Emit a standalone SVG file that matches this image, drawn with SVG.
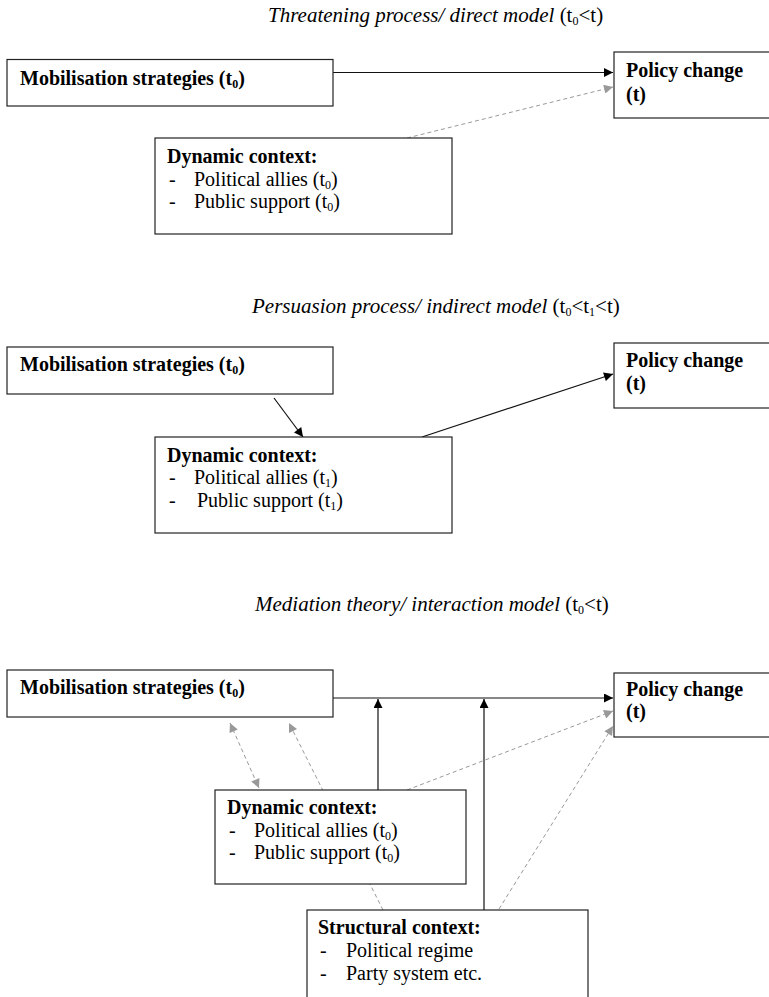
<svg xmlns="http://www.w3.org/2000/svg" width="769" height="997" viewBox="0 0 769 997">
<style>
text{font-family:"Liberation Serif","Times New Roman",serif;font-size:20px;fill:#000}
.t{font-size:21px}
.b{font-weight:bold}
.i{font-style:italic}
.sub{font-size:12px}
.box{fill:#fff;stroke:#222;stroke-width:1.2}
.solid{stroke:#111;stroke-width:1.2;fill:none}
.dash{stroke:#999;stroke-width:1;stroke-dasharray:4 3;fill:none}
</style>
<defs>
<marker id="ab" viewBox="0 0 10 10" refX="10" refY="5" markerWidth="11" markerHeight="9" markerUnits="userSpaceOnUse" orient="auto"><path d="M0,0 L10,5 L0,10 z" fill="#000"/></marker>
<marker id="ag" viewBox="0 0 10 10" refX="10" refY="5" markerWidth="11" markerHeight="9" markerUnits="userSpaceOnUse" orient="auto-start-reverse"><path d="M0,0 L10,5 L0,10 z" fill="#999"/></marker>
</defs>

<g id="titles">
<text class="t" x="268" y="22"><tspan class="i">Threatening process/ direct model</tspan> (t<tspan class="sub" dy="3">0</tspan><tspan dy="-3">&lt;t)</tspan></text>
<text class="t" x="252" y="313"><tspan class="i">Persuasion process/ indirect model</tspan> (t<tspan class="sub" dy="3">0</tspan><tspan dy="-3">&lt;t</tspan><tspan class="sub" dy="3">1</tspan><tspan dy="-3">&lt;t)</tspan></text>
<text class="t" x="255" y="611"><tspan class="i">Mediation theory/ interaction model</tspan> (t<tspan class="sub" dy="3">0</tspan><tspan dy="-3">&lt;t)</tspan></text>
</g>

<g id="connectors">
<line class="solid" x1="333" y1="72.5" x2="613" y2="72.5" marker-end="url(#ab)"/>
<line class="dash" x1="407" y1="138" x2="613" y2="87" marker-end="url(#ag)"/>
<line class="solid" x1="274" y1="398" x2="303" y2="437" marker-end="url(#ab)"/>
<line class="solid" x1="422" y1="437" x2="613" y2="374" marker-end="url(#ab)"/>
<line class="solid" x1="333" y1="698" x2="613" y2="698" marker-end="url(#ab)"/>
<line class="solid" x1="378" y1="790" x2="378" y2="699" marker-end="url(#ab)"/>
<line class="solid" x1="484" y1="910" x2="484" y2="699" marker-end="url(#ab)"/>
<line class="dash" x1="230" y1="723" x2="259" y2="788" marker-start="url(#ag)" marker-end="url(#ag)"/>
<line class="dash" x1="383" y1="910" x2="289" y2="723" marker-end="url(#ag)"/>
<line class="dash" x1="407" y1="790" x2="613" y2="711" marker-end="url(#ag)"/>
<line class="dash" x1="499" y1="909" x2="613" y2="726" marker-end="url(#ag)"/>
</g>

<g id="mob1">
<rect class="box" x="7" y="59.5" width="326" height="46.5"/>
<text class="b" x="20" y="85">Mobilisation strategies (t<tspan class="sub" dy="3">0</tspan><tspan dy="-3">)</tspan></text>
</g>
<g id="policy1">
<rect class="box" x="614" y="52" width="170" height="66"/>
<text class="b" x="626" y="77">Policy change</text>
<text class="b" x="626" y="101">(t)</text>
</g>
<g id="dyn1">
<rect class="box" x="155" y="138" width="297" height="96"/>
<text class="b" x="167" y="163">Dynamic context:</text>
<text x="169" y="186">-</text>
<text x="194" y="186">Political allies (t<tspan class="sub" dy="3">0</tspan><tspan dy="-3">)</tspan></text>
<text x="169" y="208">-</text>
<text x="194" y="208">Public support (t<tspan class="sub" dy="3">0</tspan><tspan dy="-3">)</tspan></text>
</g>

<g id="mob2">
<rect class="box" x="7" y="347" width="326" height="47"/>
<text class="b" x="20" y="371">Mobilisation strategies (t<tspan class="sub" dy="3">0</tspan><tspan dy="-3">)</tspan></text>
</g>
<g id="policy2">
<rect class="box" x="614" y="343" width="170" height="65"/>
<text class="b" x="626" y="367">Policy change</text>
<text class="b" x="626" y="390">(t)</text>
</g>
<g id="dyn2">
<rect class="box" x="155" y="437" width="297" height="96"/>
<text class="b" x="167" y="462">Dynamic context:</text>
<text x="169" y="484">-</text>
<text x="194" y="484">Political allies (t<tspan class="sub" dy="3">1</tspan><tspan dy="-3">)</tspan></text>
<text x="169" y="507">-</text>
<text x="197" y="507">Public support (t<tspan class="sub" dy="3">1</tspan><tspan dy="-3">)</tspan></text>
</g>

<g id="mob3">
<rect class="box" x="7" y="670" width="326" height="47"/>
<text class="b" x="20" y="694">Mobilisation strategies (t<tspan class="sub" dy="3">0</tspan><tspan dy="-3">)</tspan></text>
</g>
<g id="policy3">
<rect class="box" x="614" y="673" width="170" height="64"/>
<text class="b" x="626" y="696">Policy change</text>
<text class="b" x="626" y="718">(t)</text>
</g>
<g id="dyn3">
<rect class="box" x="215" y="790" width="251" height="94"/>
<text class="b" x="227" y="814">Dynamic context:</text>
<text x="229" y="837">-</text>
<text x="254" y="837">Political allies (t<tspan class="sub" dy="3">0</tspan><tspan dy="-3">)</tspan></text>
<text x="229" y="859">-</text>
<text x="254" y="859">Public support (t<tspan class="sub" dy="3">0</tspan><tspan dy="-3">)</tspan></text>
</g>
<g id="struct">
<rect class="box" x="307" y="910" width="281" height="110"/>
<text class="b" x="318" y="934">Structural context:</text>
<text x="320" y="957">-</text>
<text x="346" y="957">Political regime</text>
<text x="320" y="980">-</text>
<text x="346" y="980">Party system etc.</text>
</g>
</svg>
